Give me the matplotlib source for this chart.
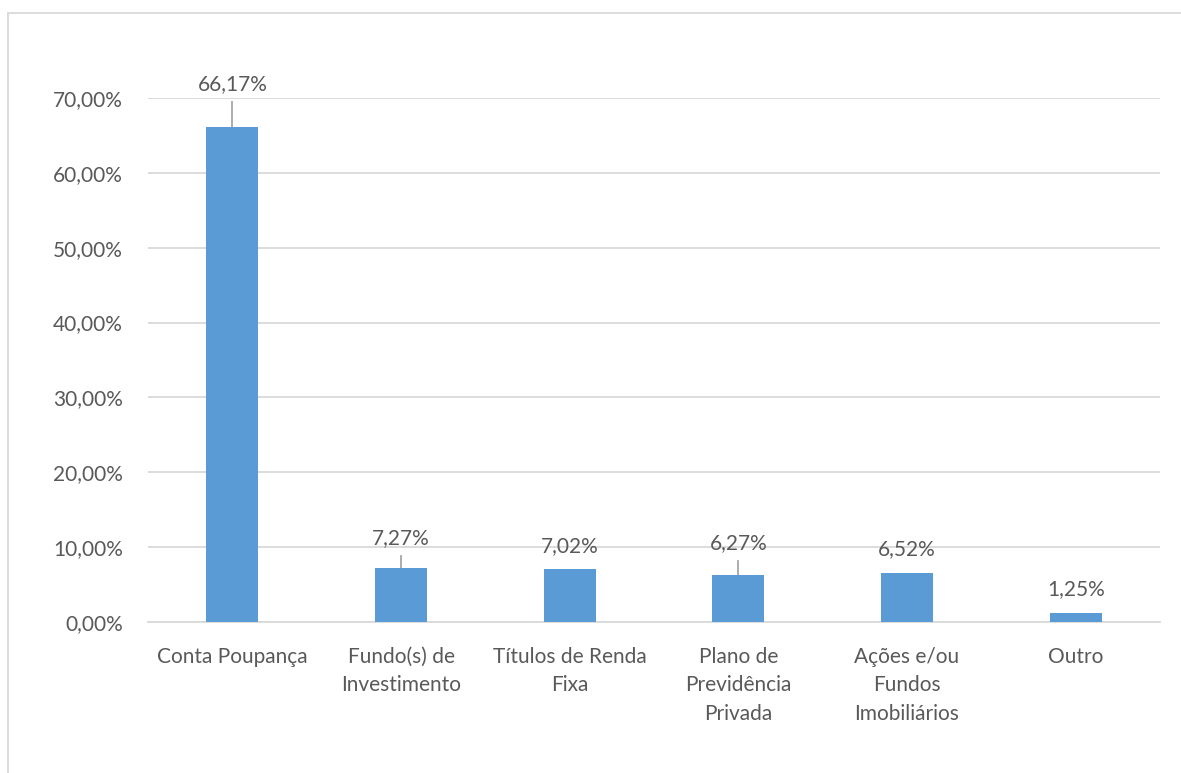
import matplotlib.pyplot as plt
from matplotlib.lines import Line2D

categories = ["Conta Poupança", "Fundo(s) de\nInvestimento", "Títulos de Renda\nFixa",
              "Plano de\nPrevidência\nPrivada", "Ações e/ou\nFundos\nImobiliários", "Outro"]
values = [66.17, 7.27, 7.02, 6.27, 6.52, 1.25]
value_labels = ["66,17%", "7,27%", "7,02%", "6,27%", "6,52%", "1,25%"]
# labels that were dragged upward in the original (None = default spot above the bar)
label_y = [71.9, 11.2, None, 10.55, None, None]

yticks = [0, 10, 20, 30, 40, 50, 60, 70]
ytick_labels = ["0,00%", "10,00%", "20,00%", "30,00%", "40,00%", "50,00%", "60,00%", "70,00%"]

plt.rcParams['font.family'] = ['Lato', 'DejaVu Sans']
text_color = "#595959"
grid_color = "#D9D9D9"
bar_color = "#5B9BD5"
fs = 15

fig = plt.figure(figsize=(11.81, 7.73), dpi=100)
ax = fig.add_axes([148 / 1181, 1 - 622 / 773, (1160 - 148) / 1181, (622 - 98) / 773])

x = list(range(len(categories)))
ax.bar(x, values, width=0.31, color=bar_color, zorder=3)

ax.set_xlim(-0.5, len(categories) - 0.5)
ax.set_ylim(0, 70)
ax.set_yticks(yticks)
ax.set_yticklabels(ytick_labels, fontsize=fs, color=text_color)
ax.set_xticks(x)
ax.set_xticklabels(categories, fontsize=fs, color=text_color, linespacing=1.52, va="top")
ax.tick_params(axis="y", length=0, pad=18)
ax.tick_params(axis="x", length=0, pad=18)
ax.grid(axis="y", color=grid_color, linewidth=1.3, zorder=0)
for s in ["top", "right", "left"]:
    ax.spines[s].set_visible(False)
ax.spines["bottom"].set_color(grid_color)
ax.spines["bottom"].set_linewidth(1.3)

for i, (v, lab, ly) in enumerate(zip(values, value_labels, label_y)):
    if ly is None:
        ax.annotate(lab, (i, v), xytext=(0, 17), textcoords="offset points",
                    ha="center", va="center", fontsize=fs, color=text_color)
    else:
        ax.text(i, ly, lab, ha="center", va="center", fontsize=fs, color=text_color)
        ax.plot([i, i], [v, ly - 2.4], color="#A6A6A6", linewidth=1.3, zorder=2)

# chart frame (partly cropped in the original)
fig.add_artist(Line2D([8 / 1181, 1], [1 - 13 / 773, 1 - 13 / 773], color=grid_color, linewidth=1.3))
fig.add_artist(Line2D([8 / 1181, 8 / 1181], [0, 1 - 13 / 773], color=grid_color, linewidth=1.3))

fig.savefig("out.png", dpi=100)
